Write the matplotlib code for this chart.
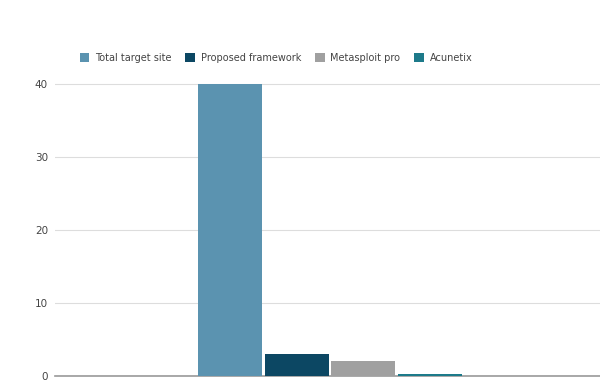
import matplotlib
matplotlib.use("Agg")
import matplotlib.pyplot as plt
import numpy as np

series = ["Total target site", "Proposed framework", "Metasploit pro", "Acunetix"]
values = [40, 3, 2, 0.3]
colors = ["#5b93b0", "#0c4763", "#a0a0a0", "#1d7a8a"]
yticks = [0, 10, 20, 30, 40]

fig = plt.figure(figsize=(6.0, 3.88), dpi=100)
ax = fig.add_axes([55/600, 12/388, 545/600, 304/388])

n = len(series)
w = 0.1174
step = 0.1224
center = 0.0046
offsets = center + (np.arange(n) - (n - 1) / 2) * step
for i in range(n):
    ax.bar(offsets[i], values[i], width=w, color=colors[i], label=series[i], zorder=3)

ax.set_xlim(-0.5, 0.5)
ax.set_ylim(0, 41.6)
ax.set_yticks(yticks)
ax.set_yticklabels([str(t) for t in yticks], fontsize=7.5, color="#444444")
ax.set_xticks([])
ax.grid(axis="y", color="#dddddd", linewidth=0.8, zorder=0)
for s in ["top", "right", "left"]:
    ax.spines[s].set_visible(False)
ax.spines["bottom"].set_color("#999999")
ax.spines["bottom"].set_linewidth(1.2)
ax.tick_params(axis="y", length=0, pad=5)

leg = fig.legend(loc="center", ncol=4, frameon=False,
                 fontsize=7, handlelength=1.0, handleheight=1.0, columnspacing=1.4, handletextpad=0.6,
                 bbox_to_anchor=(276/600, 1 - 58/388), bbox_transform=fig.transFigure)
for t in leg.get_texts():
    t.set_color("#444444")

fig.savefig("out.png", dpi=100)
